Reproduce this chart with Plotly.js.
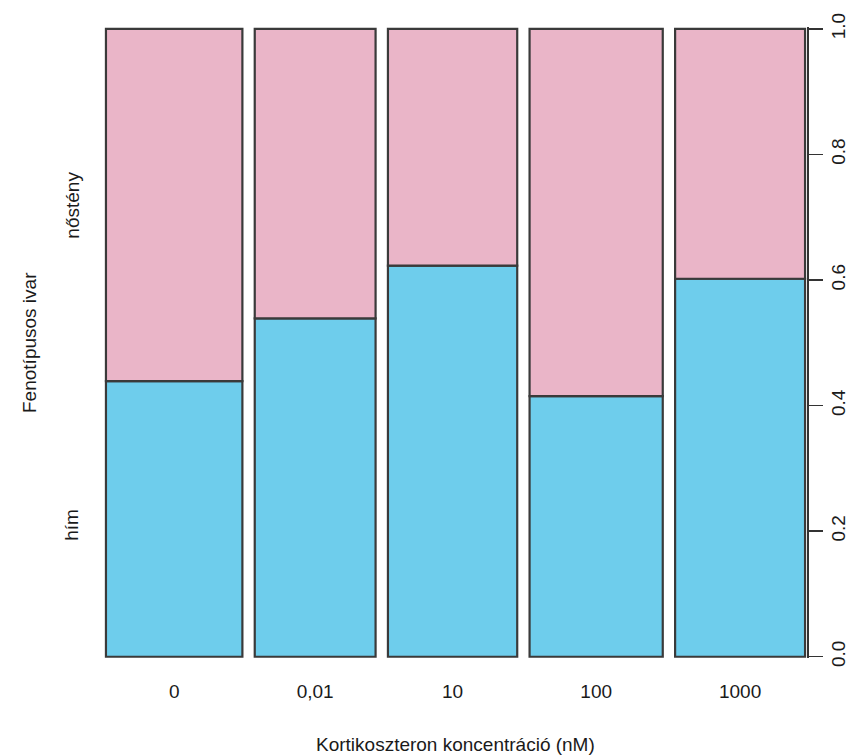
<!DOCTYPE html>
<html>
<head>
<meta charset="utf-8">
<script src="https://cdn.plot.ly/plotly-3.0.1.min.js"></script>
<style>html,body{margin:0;padding:0;background:#fff;}#chart{width:859px;height:756px;}</style>
</head>
<body>
<div id="chart"></div>
<script>
// Data read from the spineplot
const categories = ["0", "0,01", "10", "100", "1000"];
// relative group sizes (bar widths, proportions of total)
const groupShare = [0.210, 0.186, 0.199, 0.205, 0.200];
// proportion of "hím" (male) in each group
const maleShare = [0.439, 0.539, 0.623, 0.415, 0.602];
const levels = ["hím", "nőstény"];
const yTicks = [0, 0.2, 0.4, 0.6, 0.8, 1.0];
const yTickText = ["0.0", "0.2", "0.4", "0.6", "0.8", "1.0"];

const off = 0.019;
const centers = [];
let pos = 0;
groupShare.forEach((w) => {
  centers.push(pos + w / 2);
  pos += w + off;
});
const xmax = pos - off;
const femaleShare = maleShare.map(v => 1 - v);

const border = {color: "#3a3a3a", width: 2.2};
const traces = [
  {
    type: "bar", x: centers, y: maleShare, base: maleShare.map(() => 0),
    width: groupShare, name: levels[0],
    marker: {color: "#6ecdec", line: border}, hoverinfo: "skip"
  },
  {
    type: "bar", x: centers, y: femaleShare, base: maleShare,
    width: groupShare, name: levels[1],
    marker: {color: "#eab5c8", line: border}, hoverinfo: "skip"
  }
];

const font = {family: "Liberation Sans, Arial, sans-serif", size: 19, color: "#1a1a1a"};
const layout = {
  width: 859, height: 756,
  margin: {l: 104, r: 52, t: 27, b: 98},
  paper_bgcolor: "#fff", plot_bgcolor: "#fff",
  showlegend: false,
  barmode: "overlay",
  font: font,
  xaxis: {
    range: [-0.003, xmax + 0.003],
    tickvals: centers, ticktext: categories,
    showgrid: false, zeroline: false, showline: false,
    ticks: "", ticklabelstandoff: 20,
    tickfont: font, fixedrange: true
  },
  yaxis: {
    range: [-0.002, 1.003], side: "right",
    tickvals: yTicks, ticktext: yTickText, tickangle: -90,
    showgrid: false, zeroline: false,
    showline: true, linecolor: "#333", linewidth: 1.5,
    ticks: "outside", ticklen: 14, tickwidth: 1.5, tickcolor: "#333",
    tickfont: font, fixedrange: true
  },
  annotations: [
    {xref: "paper", yref: "paper", x: 0.5, y: -0.137, xanchor: "center", yanchor: "middle",
     text: "Kortikoszteron koncentráció (nM)", showarrow: false, font: font},
    {xref: "paper", yref: "paper", x: -0.106, y: 0.5, xanchor: "center", yanchor: "middle",
     text: "Fenotípusos ivar", textangle: -90, showarrow: false, font: font},
    {xref: "paper", yref: "y", x: -0.046, y: (1 + maleShare[0]) / 2, xanchor: "center", yanchor: "middle",
     text: levels[1], textangle: -90, showarrow: false, font: font},
    {xref: "paper", yref: "y", x: -0.046, y: maleShare[0] / 2 - 0.01, xanchor: "center", yanchor: "middle",
     text: levels[0], textangle: -90, showarrow: false, font: font}
  ]
};

Plotly.newPlot("chart", traces, layout, {displayModeBar: false, staticPlot: true});
</script>
</body>
</html>
